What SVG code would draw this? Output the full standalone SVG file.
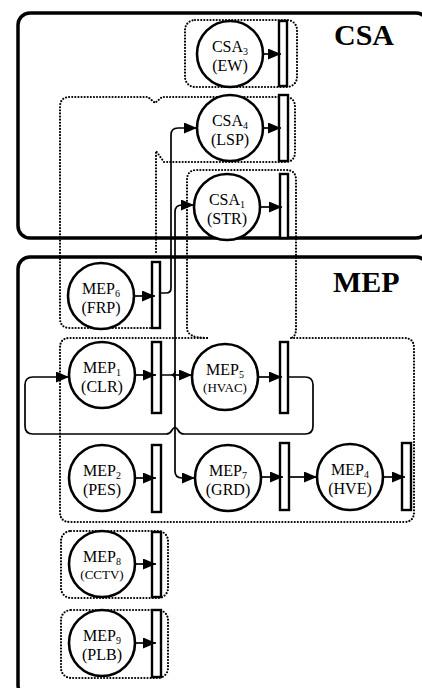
<svg xmlns="http://www.w3.org/2000/svg" width="422" height="688" viewBox="0 0 422 688">
<style>
.box{fill:none;stroke:#000;stroke-width:3.5}
.dot{fill:none;stroke:#000;stroke-width:2.2;stroke-dasharray:0 3.1;stroke-linecap:round}
.c{fill:#fff;stroke:#000;stroke-width:2.6}
.bar{fill:#fff;stroke:#000;stroke-width:2.4}
.t{font-family:"Liberation Serif","Times New Roman",serif;font-size:16px;text-anchor:middle;fill:#000}
.ts{font-family:"Liberation Serif","Times New Roman",serif;font-size:13px;text-anchor:middle;fill:#000}
.sub{font-size:10px}
.big{font-family:"Liberation Serif","Times New Roman",serif;font-size:30px;font-weight:bold;fill:#000}
.ln{fill:none;stroke:#000;stroke-width:1.7}
</style>
<defs>
<marker id="ah" markerUnits="userSpaceOnUse" markerWidth="13" markerHeight="11" refX="13" refY="5.5" orient="auto">
<path d="M0,0 L13,5.5 L0,11 Z" fill="#000"/>
</marker>
</defs>
<g id="domains">
<rect class="box" x="18" y="13" width="410" height="225" rx="12"/>
<text class="big" x="334" y="45">CSA</text>
<rect class="box" x="18" y="257" width="410" height="440" rx="12"/>
<text class="big" x="333" y="292">MEP</text>
</g>
<g id="groups">
<rect class="dot" x="185" y="20" width="112" height="67" rx="10"/>
<path class="dot" d="M150,328 L70,328 Q60,328 60,318 L60,107 Q60,97 70,97 L148,97 L155,103 L162,97 L285,97 Q295,97 295,107 L295,152 Q295,162 285,162 L164,162 L156,151 L156,254"/>
<path class="dot" d="M207,338 Q187,338 187,328 L187,180 Q187,170 197,170 L286,170 Q296,170 296,180 L296,328 Q296,338 290,338"/>
<path class="dot" d="M207,338 L70,338 Q60,338 60,348 L60,512 Q60,522 70,522 L404,522 Q414,522 414,512 L414,348 Q414,338 404,338 L290,338"/>
<rect class="dot" x="61" y="531" width="107" height="67" rx="10"/>
<rect class="dot" x="61" y="610" width="107" height="68" rx="10"/>
</g>
<g id="CSA3">
<circle class="c" cx="230" cy="54" r="33"/>
<text class="t" x="230" y="52">CSA<tspan class="sub" dy="2.5">3</tspan></text>
<text class="t" x="230" y="71">(EW)</text>
<rect class="bar" x="279" y="21" width="8" height="65"/>
</g>
<g id="CSA4">
<circle class="c" cx="230" cy="128" r="33"/>
<text class="t" x="230" y="126">CSA<tspan class="sub" dy="2.5">4</tspan></text>
<text class="t" x="230" y="145">(LSP)</text>
<rect class="bar" x="279" y="95" width="9" height="66"/>
</g>
<g id="CSA1">
<circle class="c" cx="227" cy="207" r="33"/>
<text class="t" x="227" y="205">CSA<tspan class="sub" dy="2.5">1</tspan></text>
<text class="t" x="227" y="224">(STR)</text>
<rect class="bar" x="280" y="174" width="8" height="64"/>
</g>
<g id="MEP6">
<circle class="c" cx="101" cy="296" r="33"/>
<text class="t" x="101" y="294">MEP<tspan class="sub" dy="2.5">6</tspan></text>
<text class="t" x="101" y="313">(FRP)</text>
<rect class="bar" x="152" y="262" width="8" height="66"/>
</g>
<g id="MEP1">
<circle class="c" cx="102" cy="375" r="33"/>
<text class="t" x="102" y="373">MEP<tspan class="sub" dy="2.5">1</tspan></text>
<text class="t" x="102" y="392">(CLR)</text>
<rect class="bar" x="152" y="342" width="9" height="71"/>
</g>
<g id="MEP5">
<circle class="c" cx="225" cy="377" r="33"/>
<text class="t" x="225" y="375">MEP<tspan class="sub" dy="2.5">5</tspan></text>
<text class="ts" x="225" y="392">(HVAC)</text>
<rect class="bar" x="280" y="342" width="8" height="71"/>
</g>
<g id="MEP2">
<circle class="c" cx="102" cy="478" r="33"/>
<text class="t" x="102" y="476">MEP<tspan class="sub" dy="2.5">2</tspan></text>
<text class="t" x="102" y="495">(PES)</text>
<rect class="bar" x="152" y="445" width="9" height="67"/>
</g>
<g id="MEP7">
<circle class="c" cx="228" cy="478" r="33"/>
<text class="t" x="228" y="476">MEP<tspan class="sub" dy="2.5">7</tspan></text>
<text class="t" x="228" y="495">(GRD)</text>
<rect class="bar" x="280" y="443" width="9" height="67"/>
</g>
<g id="MEP4">
<circle class="c" cx="350" cy="477" r="33"/>
<text class="t" x="350" y="475">MEP<tspan class="sub" dy="2.5">4</tspan></text>
<text class="t" x="350" y="494">(HVE)</text>
<rect class="bar" x="402" y="443" width="9" height="67"/>
</g>
<g id="MEP8">
<circle class="c" cx="102" cy="564" r="33"/>
<text class="t" x="102" y="562">MEP<tspan class="sub" dy="2.5">8</tspan></text>
<text class="ts" x="102" y="579">(CCTV)</text>
<rect class="bar" x="152" y="532" width="9" height="65"/>
</g>
<g id="MEP9">
<circle class="c" cx="102" cy="643" r="33"/>
<text class="t" x="102" y="641">MEP<tspan class="sub" dy="2.5">9</tspan></text>
<text class="t" x="102" y="660">(PLB)</text>
<rect class="bar" x="152" y="610" width="9" height="67"/>
</g>
<g id="connectors">
<path class="ln" marker-end="url(#ah)" d="M263,54 L281,54"/>
<path class="ln" marker-end="url(#ah)" d="M263,128 L281,128"/>
<path class="ln" marker-end="url(#ah)" d="M260,207 L282,207"/>
<path class="ln" marker-end="url(#ah)" d="M134,296 L155,296"/>
<path class="ln" marker-end="url(#ah)" d="M135,375 L156,375"/>
<path class="ln" marker-end="url(#ah)" d="M258,377 L282,377"/>
<path class="ln" marker-end="url(#ah)" d="M135,478 L156,478"/>
<path class="ln" marker-end="url(#ah)" d="M261,477 L283,477"/>
<path class="ln" marker-end="url(#ah)" d="M383,477 L405,477"/>
<path class="ln" marker-end="url(#ah)" d="M135,564 L156,564"/>
<path class="ln" marker-end="url(#ah)" d="M135,643 L156,643"/>
<path class="ln" marker-end="url(#ah)" d="M160,293 L166,293 Q171,293 171,288 L171,135 Q171,128 178,128 L197,128"/>
<path class="ln" marker-end="url(#ah)" d="M175,375 L175,212 Q175,205 182,205 L194,205"/>
<path class="ln" marker-end="url(#ah)" d="M175,375 L175,471 Q175,478 182,478 L195,478"/>
<path class="ln" d="M161,375 L171,375 Q175,375 175,371 M171,375 Q175,375 175,379"/>
<path class="ln" marker-end="url(#ah)" d="M175,375 L192,375"/>
<path class="ln" marker-end="url(#ah)" d="M289,477 L317,477"/>
<path class="ln" marker-end="url(#ah)" d="M288,377 L305,377 Q313,377 313,385 L313,426 Q313,434 305,434 L184,434 Q180,434 178,430 Q175,425 172,430 Q170,434 166,434 L33,434 Q25,434 25,426 L25,385 Q25,377 33,377 L69,377"/>
</g>
</svg>
